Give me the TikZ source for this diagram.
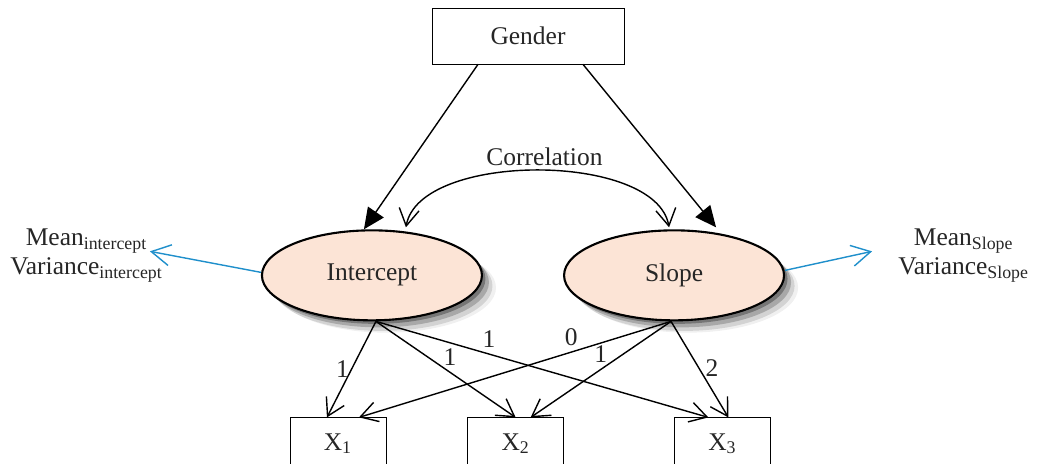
\documentclass[tikz,border=0pt]{standalone}
\usepackage{fontspec}
\setmainfont{Liberation Serif}
\usetikzlibrary{positioning,shapes,arrows.meta,shadows}
\definecolor{peach}{RGB}{252,228,214}
\definecolor{meanblue}{RGB}{31,143,203}

\begin{document}
\begin{tikzpicture}[
font=\fontsize{14.5}{16.5}\selectfont,
text=black!85,
observed/.style={rectangle, draw=black, thin, minimum width=3.84cm, minimum height=1.12cm},
indicator/.style={rectangle, draw=black, thin, minimum width=1.92cm, minimum height=1.04cm},
latent/.style={ellipse, draw=black, very thick, fill=peach, minimum width=4.4cm, minimum height=1.8cm, inner sep=0pt,
  drop shadow={shadow xshift=2pt, shadow yshift=-2pt, opacity=0.3, fill=black},
  drop shadow={shadow xshift=4pt, shadow yshift=-4pt, opacity=0.2, fill=black},
  drop shadow={shadow xshift=6pt, shadow yshift=-6pt, opacity=0.12, fill=black},
  drop shadow={shadow xshift=8pt, shadow yshift=-7pt, opacity=0.06, fill=black}},
regress/.style={-{Triangle[length=4.2mm,width=3.8mm]}, thick},
loading/.style={-{Straight Barb[length=3.4mm,width=4mm]}, thick},
covar/.style={{Straight Barb[length=3.4mm,width=4mm]}-{Straight Barb[length=3.4mm,width=4mm]}, thick},
param/.style={-{Straight Barb[length=3.8mm,width=4.2mm]}, meanblue, thick}
]
\useasboundingbox (-10.56,0.72) rectangle (10.18,-8.56);

%Nodes
\node[observed] (gender) {Gender};
\coordinate[below=4.22cm of gender, xshift=-0.1cm] (mid);
\node[latent] (intercept) [left=0.8cm of mid] {Intercept};
\node[latent] (slope) [right=0.8cm of mid] {Slope};
\node[indicator] (x_1) [below=1.92cm of intercept, xshift=-0.68cm] {X\textsubscript{1}};
\node[indicator] (x_2) [right=1.62cm of x_1] {X\textsubscript{2}};
\node[indicator] (x_3) [right=2.2cm of x_2] {X\textsubscript{3}};
\node[align=center] (mean_int) [left=1.84cm of intercept, yshift=0.4cm] {Mean\textsubscript{intercept}\\Variance\textsubscript{intercept}};
\node[align=center] (mean_slope) [right=2.14cm of slope, yshift=0.4cm] {Mean\textsubscript{Slope}\\Variance\textsubscript{Slope}};
\coordinate (tip_int) at ([xshift=-0.38cm, yshift=0.08cm]mean_int.east);
\coordinate (tip_slope) at ([xshift=-0.4cm, yshift=0.08cm]mean_slope.west);

%Connections
\draw[regress] ([xshift=-1.0cm]gender.south) -- ([xshift=-0.16cm]intercept.north);
\draw[regress] ([xshift=1.1cm]gender.south) -- ([xshift=0.84cm, yshift=0.04cm]slope.north);

\draw[covar] ([xshift=0.68cm, yshift=0.04cm]intercept.north) to[out=80, in=100, looseness=0.75]
  node[above, inner sep=2pt, xshift=0.14cm] (corr) {Correlation} ([xshift=-0.1cm, yshift=0.04cm]slope.north);

\draw[param] ([yshift=0.06cm]intercept.west) -- (tip_int);
\draw[param] ([yshift=0.1cm]slope.east) -- (tip_slope);

\draw[loading] ([xshift=0.08cm]intercept.south) -- node[pos=0.5, left, inner sep=1pt] {1} ([xshift=-0.22cm]x_1.north);
\draw[loading] ([xshift=0.08cm]intercept.south) -- node[pos=0.53, above] {1} (x_2.north);
\draw[loading] ([xshift=0.08cm]intercept.south) -- node[pos=0.34, above] {1} ([xshift=-0.28cm]x_3.north);
\draw[loading] ([xshift=-0.06cm]slope.south) -- node[pos=0.32, above] {0} ([xshift=0.42cm]x_1.north);
\draw[loading] ([xshift=-0.06cm]slope.south) -- node[pos=0.5, above] {1} ([xshift=0.3cm]x_2.north);
\draw[loading] ([xshift=-0.06cm]slope.south) -- node[pos=0.49, right] {2} ([xshift=0.12cm]x_3.north);
\end{tikzpicture}
\end{document}
